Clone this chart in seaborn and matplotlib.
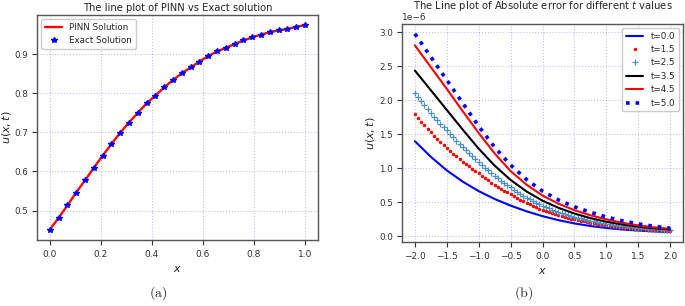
import numpy as np
import matplotlib
matplotlib.use("Agg")
import matplotlib.pyplot as plt
import seaborn as sns

# ---- panel (a): PINN vs exact, 30 points on [0, 1]
x_a = np.linspace(0, 1, 30)
u_exact = [0.451, 0.481, 0.513, 0.546, 0.577, 0.609, 0.640, 0.670, 0.699, 0.725,
           0.750, 0.774, 0.794, 0.815, 0.834, 0.851, 0.866, 0.881, 0.895, 0.907,
           0.916, 0.926, 0.935, 0.943, 0.950, 0.956, 0.961, 0.964, 0.970, 0.974]
u_pinn = u_exact

# ---- panel (b): absolute error (units of 1e-6)
x_line = np.linspace(-2, 2, 17)
x_mark = np.linspace(-2, 2, 81)
err_t00 = [1.400, 1.170, 0.970, 0.805, 0.665, 0.550, 0.452, 0.368, 0.297,
           0.238, 0.190, 0.152, 0.123, 0.101, 0.085, 0.072, 0.062]
err_t15 = [1.800, 1.742, 1.687, 1.633, 1.580, 1.530, 1.481, 1.433, 1.387, 1.343,
           1.300, 1.257, 1.216, 1.176, 1.137, 1.100, 1.063, 1.028, 0.995, 0.962,
           0.930, 0.893, 0.858, 0.823, 0.791, 0.759, 0.729, 0.700, 0.672, 0.646,
           0.620, 0.592, 0.565, 0.539, 0.515, 0.492, 0.469, 0.448, 0.428, 0.408,
           0.390, 0.373, 0.357, 0.341, 0.326, 0.312, 0.299, 0.286, 0.273, 0.261,
           0.250, 0.239, 0.229, 0.219, 0.209, 0.200, 0.191, 0.183, 0.175, 0.167,
           0.160, 0.154, 0.148, 0.143, 0.138, 0.133, 0.128, 0.123, 0.118, 0.114,
           0.110, 0.107, 0.103, 0.100, 0.097, 0.094, 0.091, 0.088, 0.085, 0.083,
           0.080]
err_t25 = [2.110, 2.047, 1.986, 1.927, 1.870, 1.814, 1.760, 1.708, 1.657, 1.608,
           1.560, 1.506, 1.455, 1.405, 1.357, 1.310, 1.265, 1.222, 1.180, 1.139,
           1.100, 1.054, 1.011, 0.969, 0.928, 0.890, 0.853, 0.818, 0.784, 0.751,
           0.720, 0.687, 0.655, 0.625, 0.597, 0.569, 0.543, 0.518, 0.494, 0.472,
           0.450, 0.431, 0.412, 0.394, 0.377, 0.361, 0.346, 0.331, 0.317, 0.303,
           0.290, 0.277, 0.265, 0.253, 0.242, 0.232, 0.222, 0.212, 0.203, 0.194,
           0.185, 0.178, 0.171, 0.164, 0.158, 0.152, 0.146, 0.141, 0.135, 0.130,
           0.125, 0.121, 0.117, 0.113, 0.110, 0.106, 0.103, 0.099, 0.096, 0.093,
           0.090]
err_t35 = [2.440, 2.150, 1.860, 1.570, 1.290, 1.040, 0.830, 0.660, 0.525,
           0.420, 0.335, 0.268, 0.215, 0.174, 0.142, 0.118, 0.100]
err_t45 = [2.810, 2.490, 2.170, 1.840, 1.520, 1.220, 0.960, 0.760, 0.600,
           0.480, 0.385, 0.310, 0.250, 0.200, 0.160, 0.132, 0.110]
err_t50 = [2.980, 2.640, 2.300, 1.960, 1.620, 1.310, 1.050, 0.835, 0.665,
           0.535, 0.435, 0.355, 0.285, 0.228, 0.183, 0.148, 0.120]

sns.set_style("ticks")
plt.rcParams.update({
    "font.family": ["DejaVu Sans"],
    "axes.edgecolor": "#555555",
    "axes.linewidth": 1.0,
    "xtick.color": "#333333",
    "ytick.color": "#333333",
    "xtick.major.size": 3.5,
    "ytick.major.size": 3.5,
    "ytick.major.pad": 3,
    "xtick.labelsize": 6.5,
    "ytick.labelsize": 6.3,
})

fig = plt.figure(figsize=(6.85, 3.06), dpi=100)
ax1 = fig.add_axes([0.054, 0.216, 0.410, 0.735])
ax2 = fig.add_axes([0.587, 0.209, 0.410, 0.713])

grid_kw = dict(color="blue", alpha=0.25, linestyle=":", linewidth=0.8)

# (a)
sns.lineplot(x=x_a, y=u_pinn, ax=ax1, color="red", lw=1.7, label="PINN Solution")
ax1.plot(x_a, u_exact, "*", color="blue", ms=4, label="Exact Solution")
ax1.set_title("The line plot of PINN vs Exact solution", fontsize=7.2, pad=3)
ax1.set_xlabel("$x$", fontsize=8)
ax1.set_ylabel("$u(x,t)$", fontsize=8)
ax1.yaxis.set_label_coords(-0.085, 0.5)
ax1.set_xticks([0.0, 0.2, 0.4, 0.6, 0.8, 1.0])
ax1.set_yticks([0.5, 0.6, 0.7, 0.8, 0.9])
ax1.grid(True, **grid_kw)
ax1.legend(loc="upper left", fontsize=6.3, framealpha=1, edgecolor="#cccccc")

# (b)
s = 1e-6
sns.lineplot(x=x_line, y=np.array(err_t00) * s, ax=ax2, color="blue", lw=1.5, label="t=0.0")
ax2.plot(x_mark, np.array(err_t15) * s, ".", color="red", ms=3, label="t=1.5")
ax2.plot(x_mark, np.array(err_t25) * s, "+", color="#4a90c4", ms=4, mew=0.9, label="t=2.5")
ax2.plot(x_line, np.array(err_t35) * s, "-", color="black", lw=1.5, label="t=3.5")
ax2.plot(x_line, np.array(err_t45) * s, "-", color="red", lw=1.5, label="t=4.5")
ax2.plot(x_line, np.array(err_t50) * s, ":", color="blue", lw=2.6, label="t=5.0")
ax2.set_title("The Line plot of Absolute error for different $t$ values", fontsize=7.2, pad=3)
ax2.set_xlabel("$x$", fontsize=8)
ax2.set_ylabel("$u(x,t)$", fontsize=8)
ax2.yaxis.set_label_coords(-0.088, 0.5)
ax2.set_xticks(np.arange(-2.0, 2.01, 0.5))
ax2.set_yticks(np.arange(0, 3.01, 0.5) * s)
ax2.yaxis.get_offset_text().set_fontsize(6.5)
ax2.grid(True, **grid_kw)
ax2.legend(loc="upper right", fontsize=6.3, framealpha=1, edgecolor="#cccccc")

fig.text(0.231, 0.03, "$\\mathrm{(a)}$", math_fontfamily="cm", fontsize=10, ha="center")
fig.text(0.764, 0.03, "$\\mathrm{(b)}$", math_fontfamily="cm", fontsize=10, ha="center")

fig.savefig("out.png", dpi=100)
